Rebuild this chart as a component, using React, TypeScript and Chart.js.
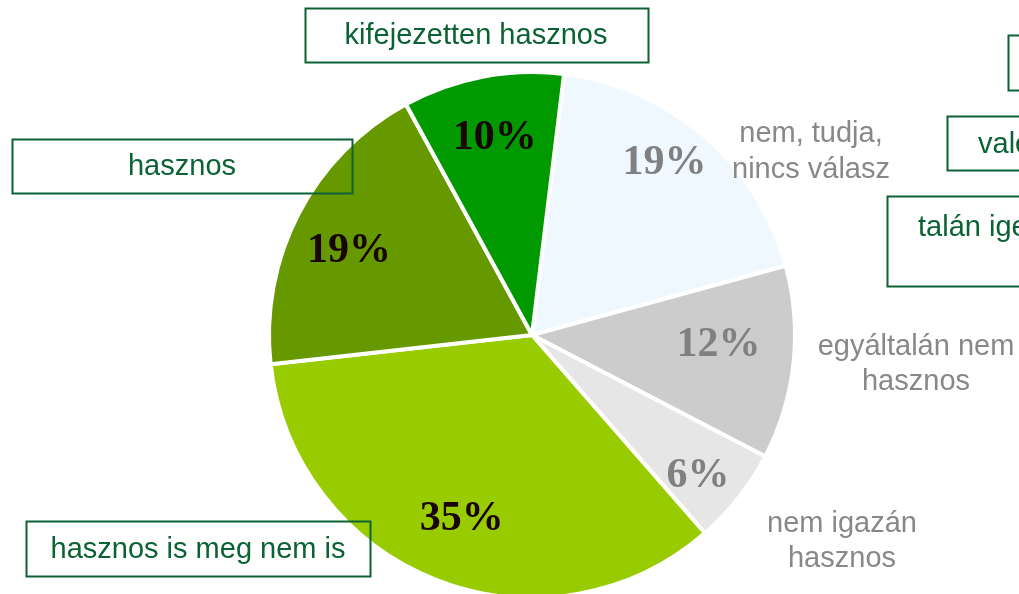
import React, { useEffect, useRef } from 'react';
import { Chart, registerables } from 'chart.js';

Chart.register(...registerables);

const categories = [
  'nem, tudja, nincs válasz',
  'egyáltalán nem hasznos',
  'nem igazán hasznos',
  'hasznos is meg nem is',
  'hasznos',
  'kifejezetten hasznos',
];
const values = [19, 12, 6, 35, 19, 10];
const sliceColors = ['#EEF8FE', '#CCCCCC', '#E6E6E6', '#99CC00', '#669900', '#009900'];
const pctColors = ['#808080', '#808080', '#808080', '#1A0505', '#1A0505', '#1A0505'];
// label placement inside slices (style only)
const pctRadius = [0.836, 0.71, 0.82, 0.737, 0.77, 0.775];
const pctAngleShift = [-3.8, -3.9, 1.5, 0, -2.1, 0.3];

// outside label layout (style only)
const grayLabels = [
  { idx: 0, lines: ['nem, tudja,', 'nincs válasz'], x: 811, y: [134, 170] },
  { idx: 1, lines: ['egyáltalán nem', 'hasznos'], x: 916, y: [347, 382] },
  { idx: 2, lines: ['nem igazán', 'hasznos'], x: 842, y: [524, 559] },
];
const boxedLabels = [
  { idx: 3, box: [26, 521, 344, 55], tx: 198, ty: 550 },
  { idx: 4, box: [12, 139, 340, 54], tx: 182, ty: 167 },
  { idx: 5, box: [305, 8, 343, 54], tx: 476, ty: 36 },
];
const partialBoxes = [
  { box: [1008, 35, 60, 55], text: '', tx: 0, ty: 0 },
  { box: [947, 116, 120, 54], text: 'való', tx: 978, ty: 145 },
  { box: [887, 196, 160, 90], text: 'talán igen', tx: 918, ty: 228 },
];

const GREEN = '#0B6334';

const labelPlugin = {
  id: 'labelPlugin',
  afterDraw(chart: any) {
    const ctx = chart.ctx as CanvasRenderingContext2D;
    const meta = chart.getDatasetMeta(0);
    ctx.save();
    // percentage labels
    const fs = 42;
    meta.data.forEach((arc: any, i: number) => {
      const p = arc.getProps(['x', 'y', 'startAngle', 'endAngle', 'outerRadius'], true);
      const mid = (p.startAngle + p.endAngle) / 2 + (pctAngleShift[i] * Math.PI) / 180;
      const r = p.outerRadius * pctRadius[i];
      const x = p.x + Math.cos(mid) * r;
      const y = p.y + Math.sin(mid) * r;
      ctx.font = `bold ${fs}px "Liberation Serif", "Times New Roman", serif`;
      ctx.fillStyle = pctColors[i];
      ctx.textAlign = 'center';
      ctx.textBaseline = 'alphabetic';
      ctx.fillText(Math.round(values[i]) + '%', x, y + fs * 0.34);
    });
    // gray labels
    ctx.font = '29px "Liberation Sans", Arial, sans-serif';
    ctx.fillStyle = '#888888';
    ctx.textAlign = 'center';
    ctx.textBaseline = 'middle';
    grayLabels.forEach((g) => {
      g.lines.forEach((ln, k) => ctx.fillText(ln, g.x, g.y[k]));
    });
    // boxed labels
    ctx.strokeStyle = GREEN;
    ctx.lineWidth = 2;
    ctx.fillStyle = GREEN;
    boxedLabels.forEach((b) => {
      const [x, y, w, h] = b.box;
      ctx.strokeRect(x + 0.5, y + 0.5, w, h);
      ctx.textAlign = 'center';
      ctx.fillText(categories[b.idx], b.tx, b.ty);
    });
    partialBoxes.forEach((b) => {
      const [x, y, w, h] = b.box;
      ctx.strokeRect(x + 0.5, y + 0.5, w, h);
      if (b.text) {
        ctx.textAlign = 'left';
        ctx.fillText(b.text, b.tx, b.ty);
      }
    });
    ctx.restore();
  },
};

export default function App() {
  const ref = useRef<HTMLCanvasElement>(null);
  useEffect(() => {
    if (!ref.current) return;
    const chart = new Chart(ref.current, {
      type: 'pie',
      data: {
        labels: categories,
        datasets: [
          {
            data: values,
            backgroundColor: sliceColors,
            borderColor: '#FFFFFF',
            borderWidth: 4,
            radius: 263,
            clip: false,
          } as any,
        ],
      },
      options: {
        animation: false,
        responsive: false,
        rotation: 7,
        layout: { padding: { left: 45, right: 0, top: 76, bottom: 0 } },
        plugins: { legend: { display: false }, tooltip: { enabled: false } },
      },
      plugins: [labelPlugin],
    });
    return () => chart.destroy();
  }, []);
  return (
    <div style={{ position: 'absolute', left: 0, top: 0, width: 1019, height: 594, background: '#fff' }}>
      <canvas ref={ref} width={1019} height={594} />
    </div>
  );
}
